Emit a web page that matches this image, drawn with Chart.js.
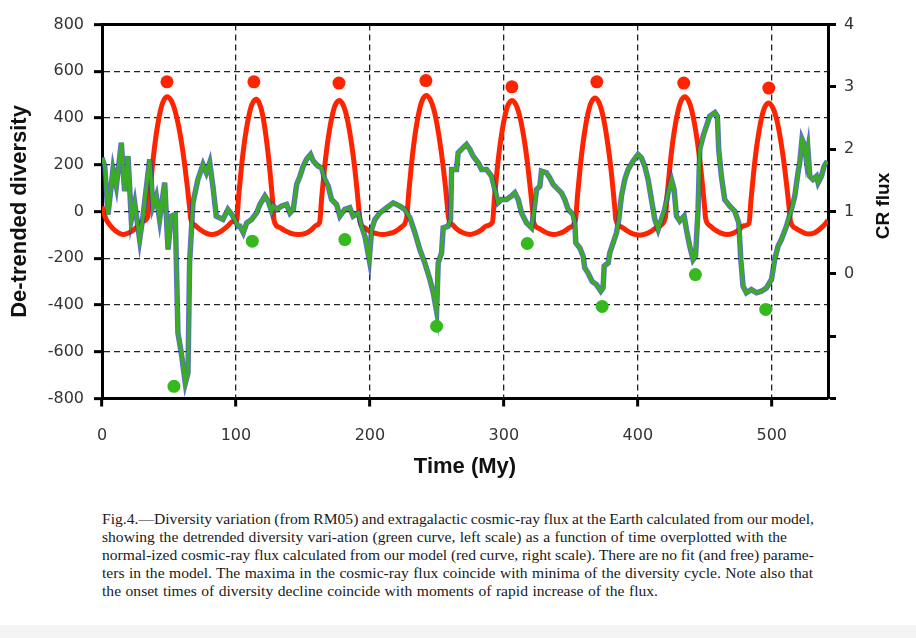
<!DOCTYPE html>
<html><head><meta charset="utf-8">
<script src="https://cdn.jsdelivr.net/npm/chart.js@4.4.1/dist/chart.umd.min.js"></script>
<style>
html,body{margin:0;padding:0;background:#fff;}
#wrap{position:relative;width:916px;height:638px;overflow:hidden;background:#fff;}
#c{position:absolute;left:0;top:0;}
#cap{position:absolute;left:102px;top:510px;width:780px;height:100px;font-family:"Liberation Serif","Times New Roman",serif;font-size:15.6px;line-height:18px;color:#1a1a1a;}
#cap .ln{position:absolute;left:0;white-space:nowrap;}
#band{position:absolute;left:0;top:625px;width:916px;height:13px;background:#f4f4f4;}
</style></head>
<body><div id="wrap"><canvas id="c" width="916" height="490"></canvas><div id="cap"></div><div id="band"></div></div>
<script>
// ---- data ----
const xTickValues = [0, 100, 200, 300, 400, 500];

const timeMy = [0,2,4.5,8.2,10.7,14.4,16.9,19.4,21.9,24.4,28.1,30.6,35.6,38,40.5,43,46.8,49.3,51.7,54.7,56.7,59.2,62.2,64.2,65.4,67.9,71.6,75.4,77.9,80.4,82.8,85.3,90.3,94,97.8,101.5,103,105.5,108,111.7,115.4,117.9,121.6,124.1,126.6,127.9,130.3,134.1,137.8,140.3,142.8,145.3,147.8,150.2,152.7,155.7,157.7,161.4,163.9,166.4,168.9,171.4,175.1,177.6,181.3,185,187.5,191.3,193.8,196.3,199.5,201.3,203.7,207.5,212.5,217.4,222.4,226.1,229.9,233.6,237.3,241,244.8,247.3,249.8,251,253.5,254.7,258.4,260.2,261,264.7,265.9,269.6,272.1,274.6,277.1,280.8,283.4,287.1,290.8,293.3,295.7,298.3,302,305.7,308.2,310.7,313.2,316.9,320.7,322.6,324.4,326.9,328.1,331.8,334.3,336.8,339.3,343,345.5,348,351.7,353,353.7,356.7,359.2,360.4,362.9,365.9,369.2,372.4,374.1,374.9,377.9,379.1,381.6,384.1,385.8,387.8,390.3,392.8,396.5,400.2,402.7,405.2,407.7,410.2,412.7,415.2,417.7,420.1,422.6,425.1,427.1,428.9,431.3,434.6,436.3,438.8,441.3,443.1,445,446.3,448.8,451.3,453.7,457.5,459.4,460.4,462.4,464.9,468.7,472.4,475.4,476.9,478.6,481.1,484.8,488.6,492.3,496,499.8,502.2,504.7,507.2,511,514.7,517.2,519.6,520.9,522.6,524.6,525.8,527,528.4,530.8,533.4,534.6,537.1,539.1,541.5];
const diversity = [230,195,-13,180,108,294,87,237,-34,37,-120,-20,223,23,66,-34,123,-163,-20,-13,-520,-605,-734,-690,-220,37,137,201,166,209,108,-20,-34,9,-20,-63,-63,-91,-49,-34,-6,30,66,44,1,23,9,23,30,-6,9,116,151,194,223,244,216,194,187,137,108,51,30,-20,9,16,-20,-6,-63,-106,-206,-77,-34,-6,16,37,23,9,-27,-91,-163,-220,-291,-348,-427,-220,-177,-70,-63,-34,180,180,251,273,287,266,237,209,180,180,151,94,37,51,51,66,80,51,-6,-49,-70,9,94,108,173,166,144,116,101,80,51,9,-13,-49,-134,-156,-191,-241,-263,-299,-313,-341,-327,-234,-220,-177,-134,-91,-34,66,137,180,216,244,230,194,137,51,-34,-77,-34,9,80,137,94,-20,-41,-20,-77,-149,-206,-191,9,266,323,366,408,423,408,266,151,51,23,1,-49,-206,-320,-348,-334,-348,-341,-327,-291,-206,-149,-120,-63,9,66,166,209,309,280,223,266,151,137,151,123,151,194,215];

const fluxTime = [0,1.5,3.2,6,10,16,22,26,30,
 34.2,35.5,37.5,39.5,41.5,43.5,45.5,48.5,51.9,54.6,57,59.4,61.6,63.8,65.5,66.2,
 70,74,78,82,86,90,94,97.5,
 100.5,102,104,106,108,110,112,115,117.6,119.7,121.5,123.3,125,126.7,128,128.5,
 132,136,141,146.5,152,156,160,
 162.5,164,166,168,170,172,174,177,180,182.4,184.5,186.6,188.6,190.5,192,192.6,
 196,200,205,209.5,214,219,223.5,
 227.5,229,231,233,235,237,239,242,245.2,247.8,250,252.2,254.3,256.4,258,258.6,
 262,266,270,274.5,279,283,287,
 291.5,293,295,297,299,301,303,306,309.1,311.6,313.8,316,318,320,321.6,322.2,
 326,330,333.5,337,341,345,349,
 353.5,355,357,359,361,363,365,368,371,373.4,375.5,377.6,379.6,381.5,383,383.6,
 388,392,396.5,401.5,406,410.5,415,
 420.5,422,424,426,428,430,432,435,438,440.4,442.5,444.6,446.6,448.5,450,450.6,
 454,458,462.5,467,471,475,479,
 483,484.5,486.5,488.5,490.5,492.5,494.5,497.5,500.7,503.3,505.5,507.7,509.8,511.9,513.5,514,
 518,522,525,528,532,536,540,542];
const fluxValue = [1.08,0.97,0.87,0.78,0.69,0.63,0.68,0.75,0.84,
 0.92,1.25,1.70,2.08,2.38,2.605,2.755,2.84,2.77,2.61,2.39,2.10,1.77,1.38,1.04,0.89,
 0.77,0.70,0.65,0.63,0.65,0.70,0.77,0.84,
 0.85,1.24,1.69,2.06,2.35,2.57,2.72,2.80,2.73,2.57,2.35,2.06,1.73,1.34,1.00,0.85,
 0.75,0.70,0.65,0.63,0.65,0.70,0.78,
 0.83,1.22,1.67,2.04,2.33,2.55,2.70,2.78,2.71,2.55,2.33,2.04,1.71,1.32,0.98,0.83,
 0.74,0.68,0.645,0.63,0.645,0.68,0.75,
 0.91,1.30,1.75,2.12,2.41,2.63,2.78,2.86,2.79,2.63,2.41,2.12,1.79,1.40,1.04,0.91,
 0.78,0.70,0.655,0.63,0.655,0.70,0.77,
 0.83,1.22,1.67,2.04,2.33,2.55,2.70,2.78,2.71,2.55,2.33,2.04,1.71,1.32,0.98,0.83,
 0.73,0.68,0.645,0.63,0.645,0.68,0.74,
 0.87,1.26,1.71,2.08,2.37,2.59,2.74,2.82,2.75,2.59,2.37,2.08,1.75,1.36,1.02,0.87,
 0.75,0.69,0.64,0.62,0.64,0.69,0.76,
 0.89,1.28,1.73,2.10,2.39,2.61,2.76,2.84,2.77,2.61,2.39,2.10,1.77,1.38,1.04,0.89,
 0.77,0.70,0.65,0.63,0.65,0.70,0.77,
 0.81,1.18,1.63,2.00,2.29,2.51,2.66,2.74,2.67,2.51,2.29,2.00,1.67,1.28,0.94,0.84,
 0.73,0.68,0.65,0.64,0.66,0.72,0.80,0.86];

const fluxPeakTime = [48.5, 113.4, 176.9, 241.8, 306, 369.4, 434.3, 497.8];
const fluxPeakValue = [3.08, 3.08, 3.06, 3.10, 3.00, 3.08, 3.06, 2.98];

const diversityMinTime = [53.7, 112.2, 181.3, 249.8, 317.5, 373.4, 443, 495.5];
const diversityMinValue = [-748, -127, -120, -491, -137, -406, -270, -419];

const captionLines = [
 "Fig.4.\u2014Diversity variation (from RM05) and extragalactic cosmic-ray flux at the Earth calculated from our model,",
 "showing the detrended diversity vari-ation (green curve, left scale) as a function of time overplotted with the",
 "normal-ized cosmic-ray flux calculated from our model (red curve, right scale). There are no fit (and free) parame-",
 "ters in the model. The maxima in the cosmic-ray flux coincide with minima of the diversity cycle. Note also that",
 "the onset times of diversity decline coincide with moments of rapid increase of the flux."
];
const captionLineWidths = [712, 685, 712, 711, 556];

// ---- build ----
const pts = (xs, ys) => xs.map((x, i) => ({x: x, y: ys[i]}));
const tickFont = {family: "'DejaVu Sans', sans-serif", size: 16};
const titleFont = {family: "'Liberation Sans', Arial, sans-serif", size: 22, weight: 'bold'};

const frame = {
  id: 'frame',
  beforeDatasetsDraw(chart) {
    const {ctx, chartArea: a} = chart;
    ctx.save();
    ctx.strokeStyle = '#000';
    ctx.lineWidth = 3;
    ctx.beginPath();
    ctx.moveTo(a.left - 1.5, a.top);
    ctx.lineTo(a.right + 1.5, a.top);
    ctx.stroke();
    ctx.restore();
  },
  afterDraw(chart) {
    const {ctx} = chart;
    ctx.save();
    ctx.translate(884, 206);
    ctx.rotate(-Math.PI / 2);
    ctx.font = "bold 19px 'Liberation Sans', Arial, sans-serif";
    ctx.fillStyle = '#111';
    ctx.textAlign = 'center';
    ctx.textBaseline = 'middle';
    ctx.fillText('CR flux', 0, 0);
    ctx.restore();
  }
};

new Chart(document.getElementById('c'), {
  type: 'line',
  data: {
    datasets: [
      {label: 'CR flux', data: pts(fluxTime, fluxValue), yAxisID: 'y2', borderColor: '#ff2400', borderWidth: 5,
       pointRadius: 0, cubicInterpolationMode: 'monotone', order: 4},
      {label: 'diversity outline', data: pts(timeMy, diversity), yAxisID: 'y', borderColor: 'rgba(40,60,190,0.75)',
       borderWidth: 5.5, pointRadius: 0, tension: 0, order: 3},
      {label: 'diversity', data: pts(timeMy, diversity), yAxisID: 'y', borderColor: '#3aad22',
       borderWidth: 3.5, pointRadius: 0, tension: 0, order: 2},
      {label: 'flux maxima', data: pts(fluxPeakTime, fluxPeakValue), yAxisID: 'y2', showLine: false,
       pointRadius: 6.5, pointBackgroundColor: '#ff2400', pointBorderWidth: 0, order: 1},
      {label: 'diversity minima', data: pts(diversityMinTime, diversityMinValue), yAxisID: 'y', showLine: false,
       pointRadius: 6.5, pointBackgroundColor: '#36b91f', pointBorderWidth: 0, order: 1}
    ]
  },
  options: {
    responsive: false,
    animation: false,
    layout: {padding: {top: 24.5, left: 0, right: 0, bottom: 0}},
    plugins: {legend: {display: false}, tooltip: {enabled: false}},
    scales: {
      x: {
        type: 'linear', position: 'bottom', min: 0, max: 542,
        afterBuildTicks(s) { s.ticks = xTickValues.map(v => ({value: v})); },
        afterFit(s) { s.height = 91.5; },
        ticks: {font: tickFont, color: '#333', padding: 20},
        grid: {color: '#222', lineWidth: 1.3, tickLength: 8, tickWidth: 3, tickColor: '#000'},
        border: {color: '#000', width: 3, dash: [6, 4]},
        title: {display: true, text: 'Time (My)', font: titleFont, color: '#111', padding: {top: 0, bottom: 10}}
      },
      y: {
        position: 'left', min: -800, max: 800,
        afterFit(s) { s.width = 102; },
        ticks: {stepSize: 200, font: tickFont, color: '#333', padding: 10},
        grid: {color: '#222', lineWidth: 1.3, tickLength: 8, tickWidth: 3, tickColor: '#000'},
        border: {color: '#000', width: 3, dash: [6, 4]},
        title: {display: true, text: 'De-trended diversity', font: titleFont, color: '#111', padding: {top: 7, bottom: 0}}
      },
      y2: {
        position: 'right', min: -2, max: 4,
        afterFit(s) { s.width = 88; },
        ticks: {stepSize: 1, font: tickFont, color: '#333', padding: 8,
                callback: v => (v < 0 ? '' : String(v))},
        grid: {drawOnChartArea: false, tickLength: 8, tickWidth: 3, tickColor: '#000', color: '#000'},
        border: {color: '#000', width: 3}
      }
    }
  },
  plugins: [frame]
});

// caption
const cap = document.getElementById('cap');
captionLines.forEach((t, i) => {
  const d = document.createElement('div');
  d.className = 'ln';
  d.style.top = (i * 18) + 'px';
  d.textContent = t;
  cap.appendChild(d);
  const w = d.getBoundingClientRect().width;
  const n = (t.match(/ /g) || []).length;
  d.style.wordSpacing = ((captionLineWidths[i] - w) / n) + 'px';
});
</script>
</body></html>
